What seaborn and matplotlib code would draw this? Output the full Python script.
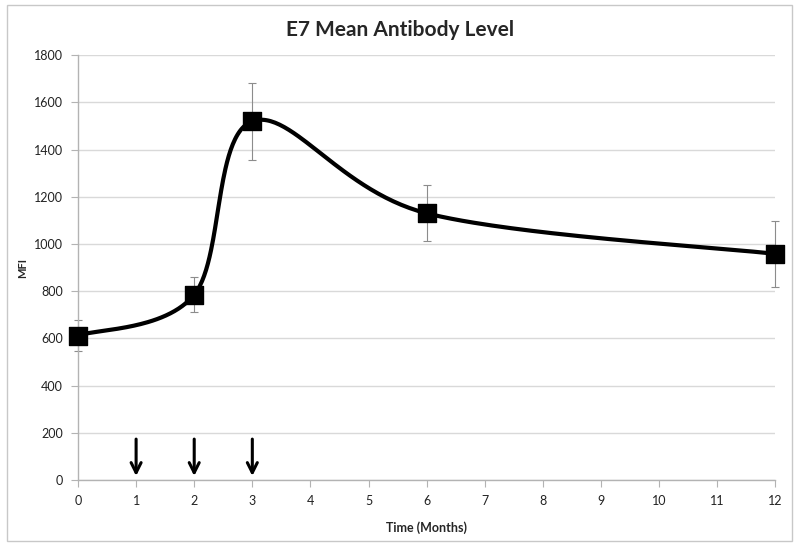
import numpy as np
import pandas as pd
import matplotlib
matplotlib.use('Agg')
import matplotlib.pyplot as plt
import seaborn as sns
from matplotlib.patches import Rectangle

# data
months = [0, 2, 3, 6, 12]
mfi = [612, 785, 1520, 1130, 958]
mfi_err = [67, 75, 163, 118, 140]
arrow_months = [1, 2, 3]
arrow_top = 185
x_ticks = list(range(0, 13))
y_ticks = list(range(0, 1801, 200))

sns.set_theme(style="whitegrid")
plt.rcParams['font.family'] = ['Lato', 'DejaVu Sans']

fig = plt.figure(figsize=(8, 5.46), dpi=100)
ax = fig.add_axes([0.0975, 0.1209, 0.8716, 0.7781])
ax.set_xlim(0, 12)
ax.set_ylim(0, 1800)

# Excel-like smoothed line (Catmull-Rom / Bezier in screen space)
df = pd.DataFrame({'month': months, 'mfi': mfi, 'err': mfi_err})
sx = 697 / 12.0
sy = 425 / 1800.0
P = np.column_stack([df['month'] * sx, df['mfi'] * sy])
n = len(P)
t = np.linspace(0, 1, 60)
curve = []
for i in range(n - 1):
    p0, p3 = P[i], P[i + 1]
    prev = P[i - 1] if i > 0 else P[i]
    nxt = P[i + 2] if i + 2 < n else P[i + 1]
    c1 = p0 + (p3 - prev) / 6.0
    c2 = p3 - (nxt - p0) / 6.0
    seg = ((1 - t) ** 3)[:, None] * p0 + (3 * (1 - t) ** 2 * t)[:, None] * c1 \
        + (3 * (1 - t) * t ** 2)[:, None] * c2 + (t ** 3)[:, None] * p3
    curve.append(seg)
curve = np.vstack(curve)
smooth = pd.DataFrame({'month': curve[:, 0] / sx, 'mfi': curve[:, 1] / sy})

ax.plot(smooth['month'], smooth['mfi'], color='black', lw=3, zorder=3, clip_on=False)
eb = ax.errorbar(df['month'], df['mfi'], yerr=df['err'], fmt='none', ecolor='#8c8c8c',
                 elinewidth=0.8, capsize=3, capthick=0.8, zorder=2)
for art in eb.lines[1] + eb.lines[2]:
    art.set_clip_on(False)
sns.scatterplot(data=df, x='month', y='mfi', marker='s', s=150, color='black',
                edgecolor='black', ax=ax, zorder=4, legend=False, clip_on=False)

for m in arrow_months:
    ax.annotate('', xy=(m, 5), xytext=(m, arrow_top),
                arrowprops=dict(arrowstyle='->', color='black', lw=2.2,
                                mutation_scale=18), zorder=5)

ax.set_xticks(x_ticks)
ax.set_yticks(y_ticks)
ax.grid(axis='x', visible=False)
ax.grid(axis='y', color='#d9d9d9', lw=1)
ax.set_facecolor('white')
for s in ['top', 'right']:
    ax.spines[s].set_visible(False)
for s in ['left', 'bottom']:
    ax.spines[s].set_color('#b3b3b3')
    ax.spines[s].set_linewidth(1)
ax.tick_params(axis='both', which='major', length=5, width=0.8, color='#b3b3b3',
               labelsize=9, labelcolor='#222222', pad=6, direction='out',
               bottom=True, left=True)

ax.set_xlabel('Time (Months)', fontsize=9, fontweight='bold', labelpad=10)
ax.set_ylabel('MFI', fontsize=8, fontweight='bold', labelpad=4)
fig.text(0.5, 0.945, 'E7 Mean Antibody Level', ha='center', va='center',
         fontsize=15, fontweight='bold')

fig.patches.append(Rectangle((7 / 800, 5 / 546), 785 / 800, 536 / 546,
                             transform=fig.transFigure, fill=False,
                             edgecolor='#c8c8c8', lw=1))

fig.savefig('out.png', dpi=100)
